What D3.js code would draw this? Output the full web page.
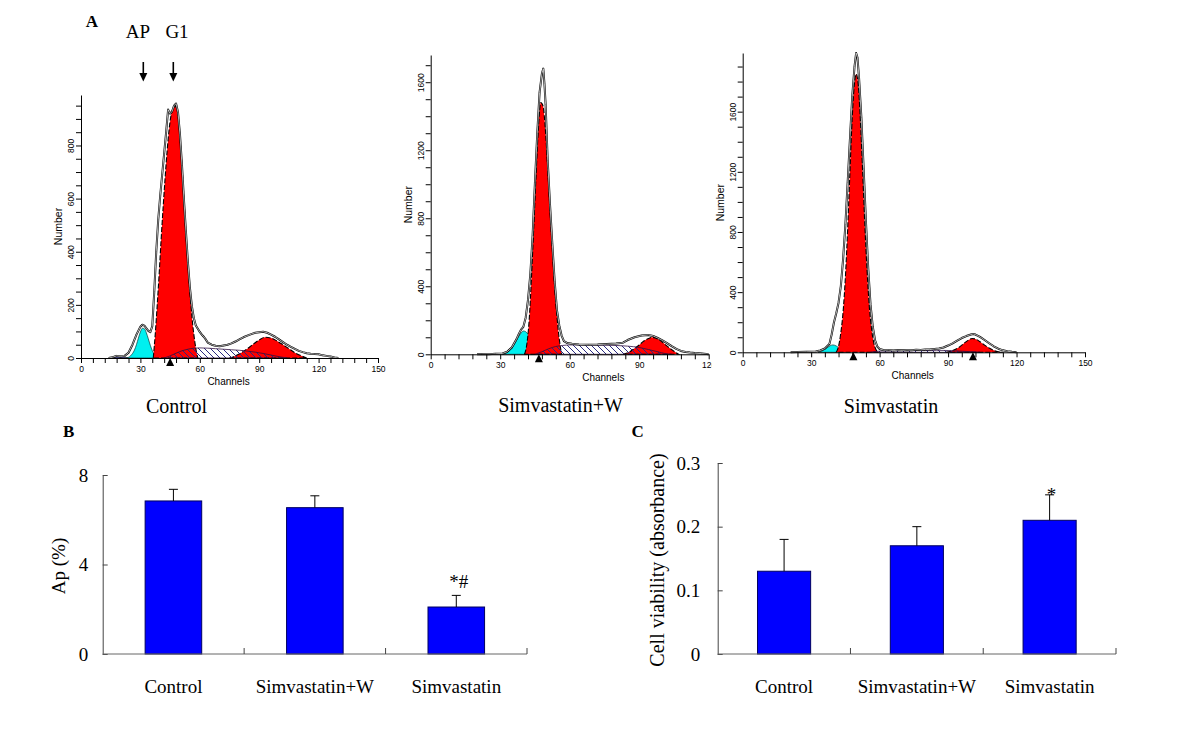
<!DOCTYPE html>
<html><head><meta charset="utf-8">
<script src="https://cdn.jsdelivr.net/npm/d3@7"></script>
<style>body{margin:0;background:#fff}svg{display:block}</style>
</head><body><svg id="c" width="1200" height="743"></svg>
<script>
// ---------- DATA ----------
const barCats = ["Control", "Simvastatin+W", "Simvastatin"];
const apValues = [6.84, 6.54, 2.10];
const apErrors = [0.52, 0.53, 0.52];
const apTicks = [0, 4, 8];
const apMarks = ["", "", "*#"];
const viabValues = [0.13, 0.17, 0.21];
const viabErrors = [0.05, 0.03, 0.04];
const viabTicks = [0, 0.1, 0.2, 0.3];
const viabMarks = ["", "", "*"];

// flow cytometry histograms: [channel, count]
const ctrlOutline = [[14,0],[16,3],[18,8],[20,6],[22,8],[24,20],[26,50],[28,88],[30,118],[31,125],[32,122],[33,112],[34,102],[35,97],[36,120],[37,250],[38,400],[39,520],[40,610],[41,690],[42,770],[43,850],[44,935],[45,920],[46,928],[47,950],[48,958],[49,925],[50,840],[51,725],[52,595],[53,475],[54,360],[55,265],[56,195],[57,150],[58,122],[59,110],[60,98],[61,88],[62,80],[63,70],[64,58],[66,50],[68,46],[70,44],[72,47],[74,50],[76,55],[78,62],[80,70],[82,78],[84,84],[86,90],[88,95],[90,97],[92,99],[94,95],[96,88],[98,80],[100,70],[102,60],[104,50],[106,42],[108,34],[110,27],[112,22],[114,18],[116,16],[118,15],[120,14],[122,10],[124,8],[126,6],[128,2],[130,0]];
const ctrlDebris = [[14,0],[16,4],[18,8],[20,7],[22,4],[24,0]];
const ctrlAP = [[23,0],[25,8],[27,30],[28,50],[29,75],[30,98],[31,112],[32,110],[33,95],[34,72],[35,48],[36,28],[37,14],[38,5],[39.5,0]];
const ctrlG1 = [[36.5,0],[37.5,90],[38.5,200],[39.5,320],[40.5,450],[41.5,570],[42.5,680],[43.5,780],[44.5,860],[45.5,915],[46.5,940],[47.5,948],[48.5,935],[49.5,880],[50.5,780],[51.5,660],[52.5,530],[53.5,410],[54.5,300],[55.5,200],[56.5,120],[57.5,60],[58.5,15],[59,0]];
const ctrlS = [[42,0],[45,8],[48,18],[51,27],[54,33],[57,37],[60,38],[64,37],[68,35],[72,33],[76,31],[80,29],[84,26],[88,22],[92,17],[96,11],[100,5],[104,0]];
const ctrlG2 = [[75,0],[78,8],[81,20],[84,35],[87,52],[90,68],[93,78],[96,75],[99,64],[102,50],[105,35],[108,20],[111,9],[114,0]];
const ctrlMarkers = [45];

const swOutline = [[20,0],[22,2],[25,1],[28,3],[31,5],[33,15],[35,40],[37,88],[38,118],[39,145],[40,162],[41,215],[42,320],[43,470],[44,700],[45,1010],[46,1300],[47,1540],[48,1650],[48.6,1680],[49.1,1590],[49.6,1470],[50.5,1140],[51.5,880],[52.5,650],[53.5,430],[54.5,260],[55.5,170],[56.5,110],[57.5,78],[59,66],[61,62],[64,58],[68,56],[72,57],[76,60],[80,63],[83,68],[85,84],[88,100],[91,110],[94,114],[96,108],[98,96],[100,82],[102,66],[104,48],[106,32],[108,20],[110,14],[112,10],[114,7],[117,4],[120,1]];
const swAP = [[31,0],[33,10],[35,35],[37,80],[38,105],[39,125],[40,137],[41,133],[42,118],[43,95],[44,68],[45,42],[46,22],[47,8],[48.5,0]];
const swG1 = [[40.5,0],[41.5,60],[42.5,200],[43.5,450],[44.5,750],[45.5,1060],[46.5,1330],[47.5,1480],[48.5,1460],[49.5,1320],[50.5,1100],[51.5,850],[52.5,620],[53.5,400],[54.5,220],[55.5,90],[56.5,0]];
const swS = [[45,0],[48,15],[51,33],[54,46],[57,52],[60,55],[65,55],[70,54],[75,53],[80,52],[85,48],[90,40],[94,28],[98,15],[101,5],[104,0]];
const swG2 = [[83,0],[86,15],[88,35],[90,55],[92,78],[94,93],[95.5,100],[97,96],[99,82],[101,60],[103,38],[105,18],[107,0]];
const swMarkers = [46.7];

const simOutline = [[21,0],[24,2],[28,3],[32,5],[34,12],[36,25],[38,55],[39,120],[40,200],[41,260],[42,330],[43,440],[44,620],[45,850],[46,1130],[47,1420],[48,1700],[49,1900],[49.7,1990],[50.3,1960],[51,1820],[52,1560],[53,1220],[54,870],[55,560],[56,320],[57,170],[58,80],[59,38],[60,22],[62,14],[64,16],[66,12],[68,15],[70,13],[72,16],[74,14],[76,17],[78,16],[80,19],[82,18],[84,22],[86,25],[88,32],[90,45],[92,60],[94,78],[96,95],[98,108],[100,118],[101,122],[102,118],[104,102],[106,82],[108,60],[110,40],[112,24],[114,13],[116,7],[118,3],[120,0]];
const simAP = [[33,0],[35,10],[37,30],[38.5,45],[39.5,49],[41,42],[42.5,25],[44,8],[45,0]];
const simG1 = [[41,0],[42,40],[43,130],[44,270],[45,500],[46,820],[47,1200],[48,1560],[49,1790],[49.7,1850],[50.5,1800],[51.5,1560],[52.5,1220],[53.5,850],[54.5,540],[55.5,300],[56.5,150],[57.5,60],[58.5,15],[59.5,0]];
const simS = [[56,0],[60,8],[65,10],[70,10],[75,11],[80,12],[85,13],[90,12],[95,8],[100,4],[104,0]];
const simG2 = [[89,0],[92,12],[95,35],[97,60],[99,82],[100.5,92],[102,88],[104,70],[106,48],[108,28],[110,13],[112,4],[114,0]];
const simMarkers = [48.5, 100.9];

// ---------- DRAWING ----------
const svg = d3.select("#c");
const defs = svg.append("defs");
defs.append("pattern").attr("id","hatch").attr("patternUnits","userSpaceOnUse")
  .attr("width",6).attr("height",6)
  .append("path").attr("d","M0,0L6,6M-1,5L1,7M5,-1L7,1")
  .attr("stroke","#2a2a80").attr("stroke-width",1);

const serif = "'Liberation Serif','Times New Roman',serif";
const sans = "'Liberation Sans',Arial,sans-serif";

const hists = [
  {id:"h1", outline:ctrlOutline, debris:ctrlDebris, ap:ctrlAP, g1:ctrlG1, s:ctrlS, g2:ctrlG2, markers:ctrlMarkers, title:barCats[0],
   xMax:150, xl:81, xr:378, yMax:990, yb:358, yt:95, yStep:50, yLab:200, clip:[40,386], tx:176.5, ty:412.5},
  {id:"h2", outline:swOutline, debris:null, ap:swAP, g1:swG1, s:swS, g2:swG2, markers:swMarkers, title:barCats[1],
   xMax:120, xl:430.7, xr:708.7, yMax:1760, yb:354.3, yt:55, yStep:100, yLab:400, clip:[390,711.5], tx:560.5, ty:411.7},
  {id:"h3", outline:simOutline, debris:null, ap:simAP, g1:simG1, s:simS, g2:simG2, markers:simMarkers, title:barCats[2],
   xMax:150, xl:742.7, xr:1085, yMax:1990, yb:352.3, yt:53, yStep:100, yLab:400, clip:[712,1200], tx:891, ty:413}
];

hists.forEach(p => {
  defs.append("clipPath").attr("id","clip"+p.id).append("rect")
    .attr("x",p.clip[0]).attr("y",40).attr("width",p.clip[1]-p.clip[0]).attr("height",360);
  const g = svg.append("g").attr("clip-path",`url(#clip${p.id})`);
  const x = d3.scaleLinear().domain([0,p.xMax]).range([p.xl,p.xr]);
  const y = d3.scaleLinear().domain([0,p.yMax]).range([p.yb,p.yt]);
  const area = d3.area().x(d=>x(d[0])).y0(y(0)).y1(d=>y(d[1])).curve(d3.curveMonotoneX);
  const line = d3.line().x(d=>x(d[0])).y(d=>y(d[1])).curve(d3.curveLinear);

  if (p.debris) g.append("path").datum(p.debris).attr("d",area).attr("fill","#4a4a9a").attr("stroke","#222").attr("stroke-width",0.6);
  g.append("path").datum(p.ap).attr("d",area).attr("fill","#00f0f0").attr("stroke","#083838").attr("stroke-width",0.7);
  [p.g1,p.g2].forEach(arr => g.append("path").datum(arr).attr("d",area)
     .attr("fill","#ff0000").attr("stroke","#000").attr("stroke-width",1.1).attr("stroke-dasharray","5,2"));
  g.append("path").datum(p.s).attr("d",area).attr("fill","url(#hatch)").attr("stroke","#301040").attr("stroke-width",0.8);
  g.append("path").datum(p.outline).attr("d",line).attr("fill","none").attr("stroke","#000").attr("stroke-width",2.0).attr("stroke-linejoin","round");
  g.append("path").datum(p.outline).attr("d",line).attr("fill","none").attr("stroke","#fff").attr("stroke-width",0.7).attr("stroke-linejoin","round");

  // y axis
  const ya = g.append("g").attr("transform",`translate(${p.xl},0)`)
    .call(d3.axisLeft(y).tickValues(d3.range(0,p.yMax,p.yStep)).tickSize(5).tickSizeOuter(0)
      .tickFormat(d => d % p.yLab === 0 ? d : ""));
  ya.selectAll("path,line").attr("stroke","#000");
  ya.selectAll("text").attr("transform","rotate(-90)").attr("x",0).attr("y",-7).attr("dy",null)
    .attr("text-anchor","middle").style("font-family",sans).style("font-size","8.5px").attr("fill","#000");
  // x axis
  const xa = g.append("g").attr("transform",`translate(0,${p.yb})`)
    .call(d3.axisBottom(x).tickValues(d3.range(0,p.xMax+0.1,6)).tickSize(5).tickSizeOuter(0).tickPadding(3)
      .tickFormat(d => d % 30 === 0 ? d : ""));
  xa.selectAll("path,line").attr("stroke","#000");
  xa.selectAll("text").style("font-family",sans).style("font-size","8.5px").attr("fill","#000");
  // markers
  g.selectAll("path.mk").data(p.markers).join("path").attr("class","mk")
    .attr("d", d => `M${x(d)},${p.yb}L${x(d)-4},${p.yb+8}L${x(d)+4},${p.yb+8}Z`).attr("fill","#000");
  // labels
  g.append("text").attr("x",x(74.5)).attr("y",p.yb+27).attr("text-anchor","middle")
    .style("font-family",sans).style("font-size","10px").text("Channels");
  const ny = (p.yb+p.yt)/2, nx = p.xl-19;
  g.append("text").attr("transform",`translate(${nx},${ny}) rotate(-90)`).attr("text-anchor","middle")
    .style("font-family",sans).style("font-size","10.5px").text("Number");
  svg.append("text").attr("x",p.tx).attr("y",p.ty).attr("text-anchor","middle")
    .style("font-family",serif).style("font-size","20px").text(p.title);
});

// panel A annotations
svg.append("text").attr("x",92).attr("y",27).attr("text-anchor","middle").style("font-family",serif)
  .style("font-size","17px").style("font-weight","bold").text("A");
svg.append("text").attr("x",138).attr("y",38).attr("text-anchor","middle").style("font-family",serif).style("font-size","19px").text("AP");
svg.append("text").attr("x",177).attr("y",38).attr("text-anchor","middle").style("font-family",serif).style("font-size","19px").text("G1");
[143.3, 173.3].forEach(ax => {
  svg.append("line").attr("x1",ax).attr("x2",ax).attr("y1",62).attr("y2",75).attr("stroke","#000").attr("stroke-width",1.6);
  svg.append("path").attr("d",`M${ax-4},${73}L${ax+4},${73}L${ax},${81.5}Z`).attr("fill","#000");
});

// ---------- BAR CHARTS ----------
function barChart(cfg) {
  const x = d3.scaleBand().domain(barCats).range([cfg.xl,cfg.xr]).paddingInner(0.6).paddingOuter(0.3);
  const y = d3.scaleLinear().domain([0, cfg.ticks[cfg.ticks.length-1]]).range([cfg.yb,cfg.yt]);
  const g = svg.append("g");
  g.selectAll("rect.bar").data(cfg.values).join("rect").attr("class","bar")
    .attr("x",(d,i)=>x(barCats[i])).attr("y",d=>y(d)).attr("width",x.bandwidth())
    .attr("height",d=>y(0)-y(d)).attr("fill","#0000ff").attr("stroke","#000060").attr("stroke-width",1);
  cfg.values.forEach((v,i) => {
    const cx = x(barCats[i]) + x.bandwidth()/2;
    g.append("line").attr("x1",cx).attr("x2",cx).attr("y1",y(v)).attr("y2",y(v+cfg.errors[i])).attr("stroke","#000").attr("stroke-width",1);
    g.append("line").attr("x1",cx-4.5).attr("x2",cx+4.5).attr("y1",y(v+cfg.errors[i])).attr("y2",y(v+cfg.errors[i])).attr("stroke","#000").attr("stroke-width",1);
    if (cfg.marks[i]) g.append("text").attr("x",cx+cfg.markDx).attr("y",cfg.markY).attr("text-anchor","middle")
      .style("font-family",serif).style("font-size","19px").text(cfg.marks[i]);
    g.append("text").attr("x",cx).attr("y",693).attr("text-anchor","middle")
      .style("font-family",serif).style("font-size","19px").text(barCats[i]);
  });
  const ya = g.append("g").attr("transform",`translate(${cfg.xl},0)`)
    .call(d3.axisLeft(y).tickValues(cfg.ticks).tickSize(-5).tickSizeOuter(0).tickPadding(cfg.pad).tickFormat(cfg.fmt));
  ya.selectAll("path,line").attr("stroke","#444");
  ya.selectAll("text").style("font-family",serif).style("font-size","19px").attr("fill","#000");
  g.append("line").attr("x1",cfg.xl).attr("x2",cfg.xr).attr("y1",y(0)).attr("y2",y(0)).attr("stroke","#666").attr("stroke-width",1);
  [1,2,3].forEach(i => {
    const bx = cfg.xl + i*x.step();
    g.append("line").attr("x1",bx).attr("x2",bx).attr("y1",y(0)).attr("y2",y(0)-6).attr("stroke","#444");
  });
  g.append("text").attr("transform",`translate(${cfg.labX},${cfg.labY}) rotate(-90)`).attr("text-anchor","middle")
    .style("font-family",serif).style("font-size",cfg.labSize).text(cfg.label);
  svg.append("text").attr("x",cfg.letterX).attr("y",437).style("font-family",serif)
    .style("font-size","17px").style("font-weight","bold").text(cfg.letter);
}

barChart({values:apValues, errors:apErrors, ticks:apTicks, marks:apMarks, fmt:d3.format("d"),
  xl:102.7, xr:527, yb:654, yt:475, pad:14.5, markY:588, markDx:2.5,
  label:"Ap (%)", labX:65, labY:566, labSize:"19px", letter:"B", letterX:63});
barChart({values:viabValues, errors:viabErrors, ticks:viabTicks, marks:viabMarks, fmt:d => d===0 ? "0" : d3.format(".1f")(d),
  xl:717.7, xr:1116, yb:654, yt:463, pad:17.5, markY:500.5, markDx:2,
  label:"Cell viability (absorbance)", labX:663.5, labY:560, labSize:"20px", letter:"C", letterX:631.5});
</script></body></html>
